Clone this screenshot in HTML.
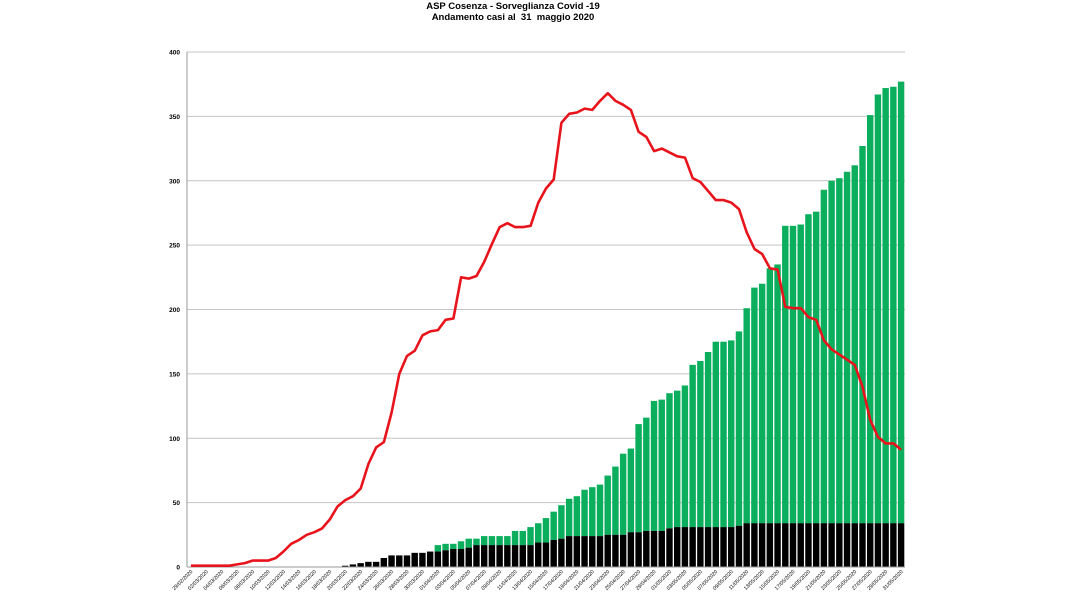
<!DOCTYPE html>
<html><head><meta charset="utf-8"><style>
html,body{margin:0;padding:0;background:#fff;width:1079px;height:606px;overflow:hidden}
svg{display:block;font-family:"Liberation Sans",sans-serif}
</style></head><body>
<svg id="c" width="1079" height="606" viewBox="0 0 1079 606" xmlns="http://www.w3.org/2000/svg">
<text x="513" y="9" text-anchor="middle" font-size="9.5" font-weight="bold">ASP Cosenza - Sorveglianza Covid -19</text>
<text x="513" y="20" text-anchor="middle" font-size="9.5" font-weight="bold" xml:space="preserve">Andamento casi al  31  maggio 2020</text>
</svg>
<script>
var s=document.getElementById('c'),NS='http://www.w3.org/2000/svg';
function el(n,a,t){var e=document.createElementNS(NS,n);for(var k in a)e.setAttribute(k,a[k]);if(t)e.textContent=t;s.appendChild(e);return e;}
var x0=187,x1=905,y0=567,sc=515/400,N=93,w=(x1-x0)/N;
function Y(v){return y0-v*sc;}
for(var g=0;g<=400;g+=50){el('line',{x1:x0,x2:x1,y1:Y(g),y2:Y(g),stroke:'#c4c4c4','stroke-width':1});
el('text',{x:180,y:Y(g)+2.5,'text-anchor':'end','font-size':6.5,'font-weight':'bold'},String(g));}
el('line',{x1:x0,x2:x0,y1:Y(400),y2:y0,stroke:'#999','stroke-width':1});
var red=[1,1,1,1,1,1,2,3,5,5,5,7,12,18,21,25,27,30,37,47,52,55,61,80,93,97,120,150,164,168,180,183,184,192,193,225,224,226,237,251,264,267,264,264,265,283,294,301,345,352,353,356,355,362,368,362,359,355,338,334,323,325,322,319,318,302,299,292,285,285,283,278,260,247,243,232,231,202,201,201,194,192,176,169,165,161,157,140,114,101,96,96,91];
var tot=[];var blk=[];
var tg=[17,18,18,20,22,22,24,24,24,24,28,28,31,34,38,43,48,53,55,60,62,64,71,78,88,92,111,116,129,130,135,137,141,157,160,167,175,175,176,183,201,217,220,232,235,265,265,266,274,276,293,300,302,307,312,327,351,367,372,373,377];
var bb={20:1,21:2,22:3,23:4,24:4,25:7,26:9,27:9,28:9,29:11,30:11,31:12,32:12,33:13,34:14,35:14,36:15,37:17,38:17,39:17,40:17,41:17,42:17,43:17,44:17,45:19,46:19,47:21,48:22};
for(var i=0;i<N;i++){var b=bb[i]||0;if(i>=49&&i<=53)b=24;else if(i>=54&&i<=56)b=25;else if(i>=57&&i<=58)b=27;else if(i>=59&&i<=61)b=28;else if(i==62)b=30;else if(i>=63&&i<=70)b=31;else if(i==71)b=32;else if(i>=72)b=34;
blk.push(b);tot.push(i>=32?tg[i-32]:b);}
for(var i=0;i<N;i++){var bx=x0+i*w+0.6,bw=w-1.3;
if(tot[i]>blk[i])el('rect',{x:bx,y:Y(tot[i]),width:bw,height:(tot[i]-blk[i])*sc,fill:'#0aae5c'});
if(blk[i]>0)el('rect',{x:bx,y:Y(blk[i]),width:bw,height:blk[i]*sc,fill:'#000'});}
el('line',{x1:x0,x2:x1,y1:y0,y2:y0,stroke:'#999','stroke-width':1});
var p='';for(var i=0;i<N;i++)p+=(i?'L':'M')+(x0+(i+0.5)*w).toFixed(1)+','+Y(red[i]).toFixed(1);
el('path',{d:p,fill:'none',stroke:'#e8141c','stroke-width':2.6,'stroke-linejoin':'round'});
var d=new Date(2020,1,29);
for(var i=0;i<N;i++){if(i%2==0){var cx=x0+(i+0.5)*w+2,cy=y0+5;
var t=('0'+d.getDate()).slice(-2)+'/'+('0'+(d.getMonth()+1)).slice(-2)+'/2020';
el('text',{x:cx,y:cy,'text-anchor':'end','font-size':5.2,transform:'rotate(-45 '+cx+' '+cy+')'},t);}
d.setDate(d.getDate()+1);}
</script>
</body></html>
